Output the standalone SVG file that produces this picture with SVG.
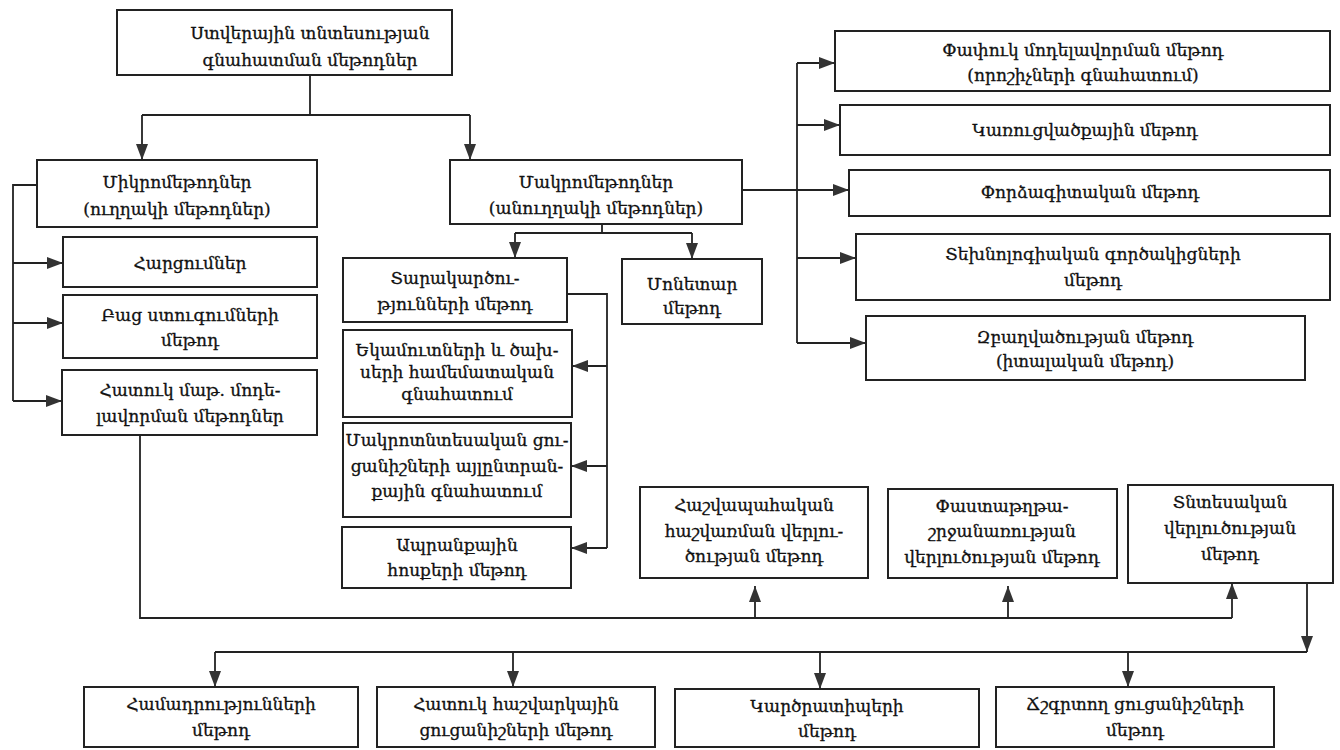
<svg xmlns="http://www.w3.org/2000/svg" width="1340" height="750" viewBox="0 0 1340 750">
<style>
.box{fill:#fff;stroke:#222;stroke-width:2}
.t{font-family:"DejaVu Serif","Noto Sans",serif;font-size:17px;fill:#111;stroke:#111;stroke-width:0.3;text-anchor:middle;dominant-baseline:central}
.c{fill:none;stroke:#222;stroke-width:1.8}
.a{fill:none;stroke:#222;stroke-width:1.8;marker-end:url(#ah)}
</style>
<defs>
<marker id="ah" markerUnits="userSpaceOnUse" markerWidth="16" markerHeight="12" refX="16" refY="6" orient="auto">
<path d="M0,0 L16,6 L0,12 z" fill="#333"/>
</marker>
</defs>
<rect width="1340" height="750" fill="#fff"/>
<g id="connectors">
<path class="c" d="M310,75 V115 M142,115 H470"/>
<path class="a" d="M142,115 V160"/>
<path class="a" d="M470,115 V160"/>
<path class="c" d="M37,185 H13 V401"/>
<path class="a" d="M13,263 H63"/>
<path class="a" d="M13,323 H63"/>
<path class="a" d="M13,401 H62"/>
<path class="c" d="M602,224 V233 M515,233 H692"/>
<path class="a" d="M515,233 V258"/>
<path class="a" d="M692,233 V259"/>
<path class="a" d="M742,190 H849"/>
<path class="c" d="M797,63 V343"/>
<path class="a" d="M797,63 H835"/>
<path class="a" d="M797,125 H840"/>
<path class="a" d="M797,258 H856"/>
<path class="a" d="M797,343 H866"/>
<path class="c" d="M567,294 H607 V548"/>
<path class="a" d="M607,366 H572"/>
<path class="a" d="M607,466 H571"/>
<path class="a" d="M607,548 H571"/>
<path class="c" d="M140,435 V618 H1232"/>
<path class="a" d="M755,618 V586"/>
<path class="a" d="M1008,618 V586"/>
<path class="a" d="M1232,618 V583"/>
<path class="a" d="M1307,583 V652"/>
<path class="c" d="M1307,652 H215"/>
<path class="a" d="M215,652 V687"/>
<path class="a" d="M513,652 V687"/>
<path class="a" d="M820,652 V689"/>
<path class="a" d="M1128,652 V687"/>
</g>
<g id="n-root"><rect class="box" x="117" y="10" width="335" height="65"/><text class="t" x="310" y="33">Ստվերային տնտեսության</text><text class="t" x="310" y="60">գնահատման մեթոդներ</text></g>
<g id="n-micro"><rect class="box" x="37" y="160" width="280" height="67"/><text class="t" x="177" y="182">Միկրոմեթոդներ</text><text class="t" x="177" y="209">(ուղղակի մեթոդներ)</text></g>
<g id="n-macro"><rect class="box" x="450" y="160" width="292" height="64"/><text class="t" x="596" y="182">Մակրոմեթոդներ</text><text class="t" x="596" y="208">(անուղղակի մեթոդներ)</text></g>
<g id="n-harc"><rect class="box" x="63" y="237" width="254" height="50"/><text class="t" x="190" y="263">Հարցումներ</text></g>
<g id="n-bac"><rect class="box" x="63" y="295" width="254" height="63"/><text class="t" x="190" y="315">Բաց ստուգումների</text><text class="t" x="190" y="340">մեթոդ</text></g>
<g id="n-hatuk"><rect class="box" x="62" y="370" width="255" height="65"/><text class="t" x="190" y="390">Հատուկ մաթ. մոդե-</text><text class="t" x="190" y="416">լավորման մեթոդներ</text></g>
<g id="n-tarak"><rect class="box" x="343" y="258" width="224" height="64"/><text class="t" x="455" y="278">Տարակարծու-</text><text class="t" x="455" y="304">թյունների մեթոդ</text></g>
<g id="n-monetar"><rect class="box" x="622" y="259" width="140" height="65"/><text class="t" x="692" y="284">Մոնետար</text><text class="t" x="692" y="308">մեթոդ</text></g>
<g id="n-ekamut"><rect class="box" x="343" y="330" width="229" height="87"/><text class="t" x="457" y="350">Եկամուտների և ծախ-</text><text class="t" x="457" y="372">սերի համեմատական</text><text class="t" x="457" y="394">գնահատում</text></g>
<g id="n-makrotnt"><rect class="box" x="343" y="423" width="228" height="94"/><text class="t" x="457" y="440">Մակրոտնտեսական ցու-</text><text class="t" x="457" y="466">ցանիշների այլընտրան-</text><text class="t" x="457" y="491">քային գնահատում</text></g>
<g id="n-apranq"><rect class="box" x="342" y="527" width="229" height="61"/><text class="t" x="457" y="545">Ապրանքային</text><text class="t" x="457" y="570">հոսքերի մեթոդ</text></g>
<g id="n-phaf"><rect class="box" x="835" y="31" width="495" height="60"/><text class="t" x="1083" y="50">Փափուկ մոդելավորման մեթոդ</text><text class="t" x="1083" y="75">(որոշիչների գնահատում)</text></g>
<g id="n-kar"><rect class="box" x="840" y="105" width="490" height="50"/><text class="t" x="1085" y="130">Կառուցվածքային մեթոդ</text></g>
<g id="n-phor"><rect class="box" x="849" y="170" width="481" height="46"/><text class="t" x="1090" y="192">Փորձագիտական մեթոդ</text></g>
<g id="n-tex"><rect class="box" x="856" y="234" width="474" height="66"/><text class="t" x="1093" y="254">Տեխնոլոգիական գործակիցների</text><text class="t" x="1093" y="280">մեթոդ</text></g>
<g id="n-zb"><rect class="box" x="866" y="316" width="439" height="64"/><text class="t" x="1085" y="337">Զբաղվածության մեթոդ</text><text class="t" x="1085" y="361">(իտալական մեթոդ)</text></g>
<g id="n-hash"><rect class="box" x="640" y="487" width="228" height="91"/><text class="t" x="754" y="505">Հաշվապահական</text><text class="t" x="754" y="531">հաշվառման վերլու-</text><text class="t" x="754" y="556">ծության մեթոդ</text></g>
<g id="n-phast"><rect class="box" x="888" y="489" width="229" height="89"/><text class="t" x="1002" y="506">Փաստաթղթա-</text><text class="t" x="1002" y="531">շրջանառության</text><text class="t" x="1002" y="557">վերլուծության մեթոդ</text></g>
<g id="n-tnt"><rect class="box" x="1128" y="485" width="205" height="98"/><text class="t" x="1230" y="502">Տնտեսական</text><text class="t" x="1230" y="528">վերլուծության</text><text class="t" x="1230" y="554">մեթոդ</text></g>
<g id="n-hamadr"><rect class="box" x="84" y="687" width="274" height="60"/><text class="t" x="221" y="704">Համադրությունների</text><text class="t" x="221" y="730">մեթոդ</text></g>
<g id="n-hathash"><rect class="box" x="377" y="687" width="278" height="60"/><text class="t" x="516" y="704">Հատուկ հաշվարկային</text><text class="t" x="516" y="730">ցուցանիշների մեթոդ</text></g>
<g id="n-kardz"><rect class="box" x="675" y="689" width="304" height="58"/><text class="t" x="827" y="706">Կարծրատիպերի</text><text class="t" x="827" y="731">մեթոդ</text></g>
<g id="n-chsht"><rect class="box" x="996" y="687" width="278" height="60"/><text class="t" x="1135" y="704">Ճշգրտող ցուցանիշների</text><text class="t" x="1135" y="730">մեթոդ</text></g>
</svg>
